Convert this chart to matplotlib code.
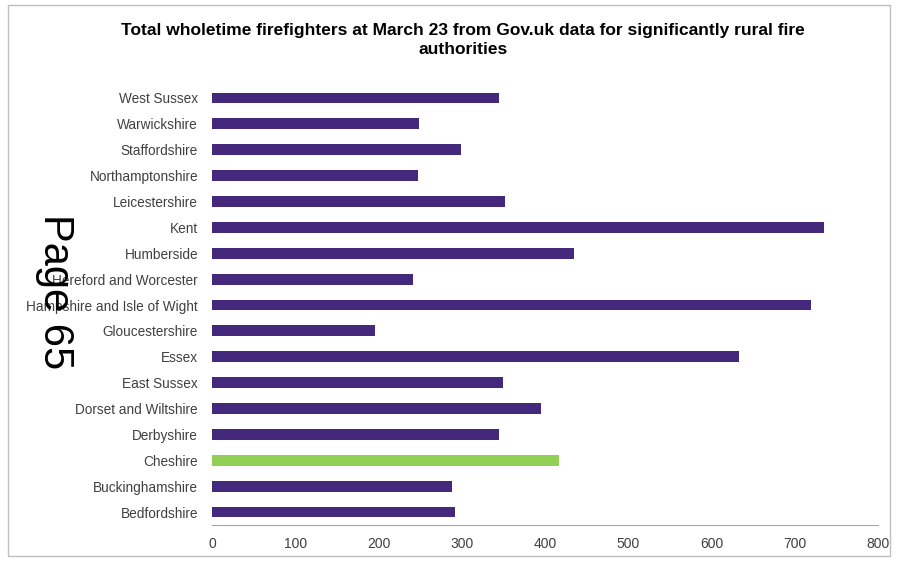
import matplotlib
matplotlib.use('Agg')
import matplotlib.pyplot as plt
from matplotlib.patches import Rectangle

# Authorities listed bottom to top as they appear on the chart
authorities = [
    "Bedfordshire", "Buckinghamshire", "Cheshire", "Derbyshire",
    "Dorset and Wiltshire", "East Sussex", "Essex", "Gloucestershire",
    "Hampshire and Isle of Wight", "Hereford and Worcester", "Humberside",
    "Kent", "Leicestershire", "Northamptonshire", "Staffordshire",
    "Warwickshire", "West Sussex",
]
firefighters = [292, 288, 417, 345, 395, 350, 633, 196, 720, 241, 435,
                735, 352, 247, 299, 249, 345]
highlight = "Cheshire"

purple = "#44287b"
green = "#92cf55"
colors = [green if a == highlight else purple for a in authorities]

plt.rcParams['font.family'] = ['Liberation Sans', 'DejaVu Sans']

fig = plt.figure(figsize=(8.97, 5.63), dpi=100)
ax = fig.add_axes([212 / 897, 1 - 525 / 563, (878 - 212) / 897, (525 - 85) / 563])

ax.barh(range(len(authorities)), firefighters, height=0.42, color=colors)
ax.set_yticks(range(len(authorities)))
ax.set_yticklabels(authorities, fontsize=9.8, color="#404040")
ax.set_ylim(-0.5, len(authorities) - 0.5)
ax.set_xlim(0, 800)
ax.set_xticks(range(0, 801, 100))
ax.tick_params(axis='x', labelsize=10, colors="#404040", length=0, pad=9)
ax.tick_params(axis='y', length=0, pad=10)
for side in ['top', 'right', 'left']:
    ax.spines[side].set_visible(False)
ax.spines['bottom'].set_color("#a6a6a6")

fig.text(463 / 897, 1 - 40 / 563,
         "Total wholetime firefighters at March 23 from Gov.uk data for significantly rural fire\nauthorities",
         ha='center', va='center', fontsize=12.5, fontweight='bold', linespacing=1.25)

# chart frame
fig.patches.append(Rectangle((8 / 897, 1 - 556 / 563), 882 / 897, 551 / 563,
                             transform=fig.transFigure, fill=False,
                             edgecolor="#bfbfbf", linewidth=1))

# page stamp overlaid on the chart
fig.text(55 / 897, 1 - 292 / 563, "Page 65", rotation=-90, ha='center', va='center',
         fontsize=30, family=['Liberation Sans', 'DejaVu Sans'])

fig.savefig("out.png", dpi=100)
